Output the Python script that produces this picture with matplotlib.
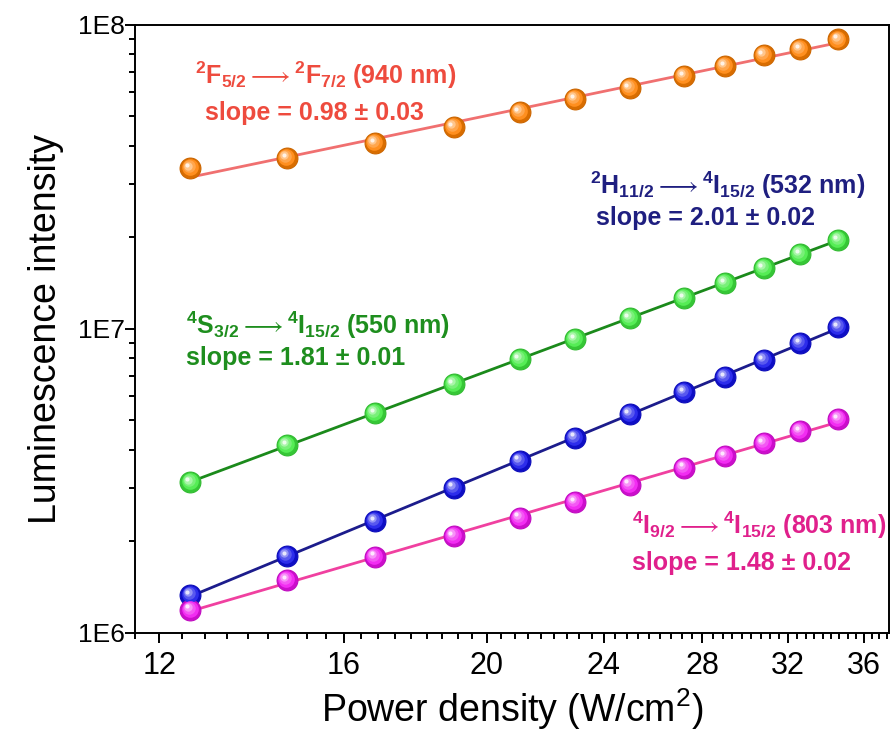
import numpy as np
import matplotlib
matplotlib.use("Agg")
import matplotlib.pyplot as plt
from matplotlib.ticker import FixedLocator, FixedFormatter, LogLocator, NullFormatter
from matplotlib.transforms import offset_copy
from matplotlib.colors import to_rgb

plt.rcParams['font.family'] = ['Liberation Sans', 'DejaVu Sans']
plt.rcParams['mathtext.fontset'] = 'custom'
plt.rcParams['mathtext.rm'] = 'Liberation Sans:bold'
plt.rcParams['mathtext.it'] = 'Liberation Sans:bold'
plt.rcParams['mathtext.bf'] = 'Liberation Sans:bold'
plt.rcParams['mathtext.fallback'] = 'stix'

# power density (W/cm2)
power = [12.6, 14.65, 16.8, 19.0, 21.05, 22.95, 25.0, 27.2, 29.0, 30.8, 32.6, 34.6]

# luminescence intensity
i940 = [3.38e7, 3.65e7, 4.09e7, 4.62e7, 5.17e7, 5.71e7, 6.2e7, 6.8e7, 7.33e7, 7.97e7, 8.34e7, 8.97e7]
i550 = [3.13e6, 4.15e6, 5.29e6, 6.59e6, 7.96e6, 9.26e6, 1.086e7, 1.264e7, 1.416e7, 1.586e7, 1.764e7, 1.961e7]
i532 = [1.33e6, 1.79e6, 2.33e6, 3.0e6, 3.68e6, 4.38e6, 5.25e6, 6.2e6, 6.94e6, 7.9e6, 8.99e6, 1.015e7]
i803 = [1.19e6, 1.49e6, 1.78e6, 2.08e6, 2.39e6, 2.69e6, 3.07e6, 3.49e6, 3.82e6, 4.21e6, 4.61e6, 5.05e6]

labels = [r'$^{2}$F$_{5/2}\longrightarrow^{2}$F$_{7/2}$ (940 nm)',
          r'$^{2}$H$_{11/2}\longrightarrow^{4}$I$_{15/2}$ (532 nm)',
          r'$^{4}$S$_{3/2}\longrightarrow^{4}$I$_{15/2}$ (550 nm)',
          r'$^{4}$I$_{9/2}\longrightarrow^{4}$I$_{15/2}$ (803 nm)']
slopes = ['slope = 0.98 ± 0.03', 'slope = 2.01 ± 0.02',
          'slope = 1.81 ± 0.01', 'slope = 1.48 ± 0.02']

fig = plt.figure(figsize=(8.92, 7.33), dpi=100)
ax = fig.add_axes([0.1513, 0.1368, 0.8453, 0.8291])
ax.set_xscale('log')
ax.set_yscale('log')


def balls(x, y, col):
    # fake 3D spheres: base disc + lighter layers shifted up-left
    base = np.array(to_rgb(col))
    ax.plot(x, y, 'o', ms=15, color=base * 0.85, mec=base * 0.8, mew=0.8, zorder=5)
    for k, (ms, mix, d) in enumerate([(12, 0.12, 0.6), (9, 0.3, 1.2), (6, 0.55, 1.9), (3, 0.9, 2.4)]):
        c = base * (1 - mix) + np.ones(3) * mix
        tr = offset_copy(ax.transData, fig=fig, x=-d, y=d, units='points')
        ax.plot(x, y, 'o', ms=ms, color=c, mec='none', transform=tr, zorder=6 + k)


def fit_line(x, y, col):
    lx, ly = np.log10(x), np.log10(y)
    p = np.polyfit(lx, ly, 1)
    xx = np.array([x[0], x[-1]])
    ax.plot(xx, 10 ** np.polyval(p, np.log10(xx)), '-', color=col, lw=2, zorder=4)


series = [(i940, '#FF8000', '#F07070'),
          (i550, '#3FEA3F', '#1B8A1B'),
          (i532, '#1010E8', '#1C1C8C'),
          (i803, '#F010F0', '#F040A0')]
for y, mc, lc in series:
    fit_line(power, y, lc)
    balls(power, y, mc)

txt_cols = ['#EE4B3E', '#1F1F80', '#1E8E1E', '#E0208C']
pos = [(0.0796, 0.917, 0.0928, 0.855),
       (0.603, 0.737, 0.611, 0.682),
       (0.0676, 0.506, 0.0676, 0.452),
       (0.659, 0.177, 0.659, 0.115)]
for lab, sl, c, (x1, y1, x2, y2) in zip(labels, slopes, txt_cols, pos):
    ax.text(x1, y1, lab, transform=ax.transAxes, color=c, fontsize=18,
            fontweight='bold', va='center', ha='left')
    ax.text(x2, y2, sl, transform=ax.transAxes, color=c, fontsize=18,
            fontweight='bold', va='center', ha='left')

ax.set_xlim(11.556, 37.45)
ax.set_ylim(1e6, 1e8)

xt = [12, 16, 20, 24, 28, 32, 36]
ax.xaxis.set_major_locator(FixedLocator(xt))
ax.xaxis.set_major_formatter(FixedFormatter([str(v) for v in xt]))
ax.xaxis.set_minor_locator(FixedLocator(np.arange(11.556, 37.5, 4 / 9)))
ax.xaxis.set_minor_formatter(NullFormatter())

ax.yaxis.set_major_locator(FixedLocator([1e6, 1e7, 1e8]))
ax.yaxis.set_major_formatter(FixedFormatter(['1E6', '1E7', '1E8']))
ax.yaxis.set_minor_locator(LogLocator(base=10, subs=np.arange(2, 10)))
ax.yaxis.set_minor_formatter(NullFormatter())

ax.tick_params(which='both', direction='out', width=1.4, top=False, right=False)
ax.tick_params(which='major', length=7)
ax.tick_params(which='minor', length=4.5)
ax.tick_params(axis='x', labelsize=22, pad=6)
ax.tick_params(axis='y', labelsize=19, pad=0)
for s in ax.spines.values():
    s.set_linewidth(1.4)

ax.set_xlabel(r'Power density (W/cm$\mathregular{^{2}}$)', fontsize=27, labelpad=4)
ax.set_ylabel('Luminescence intensity', fontsize=27, labelpad=10)

fig.savefig('out.png', dpi=100)
